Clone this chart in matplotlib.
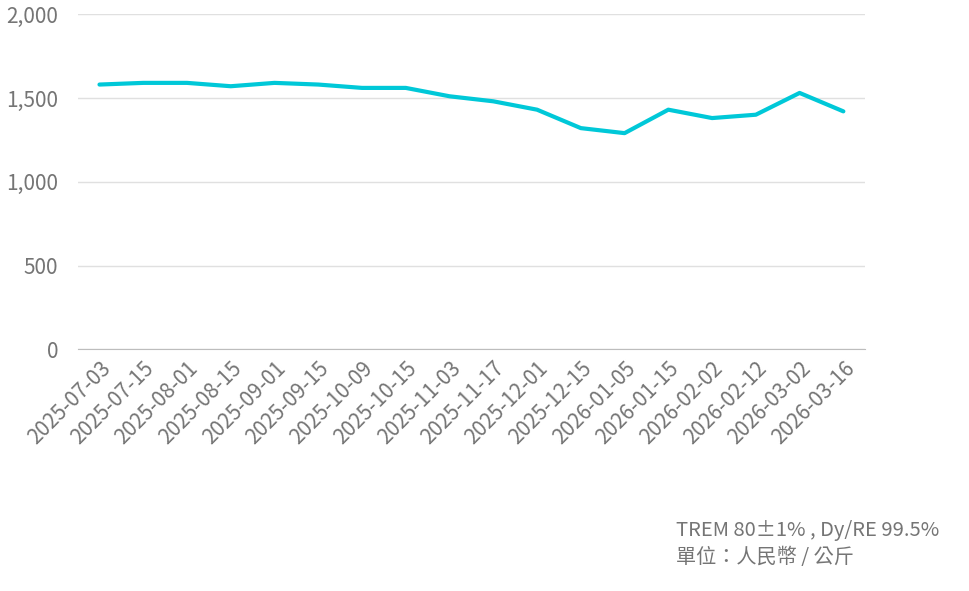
import matplotlib
matplotlib.use('Agg')
import matplotlib.pyplot as plt

plt.rcParams['font.family'] = ['Noto Sans CJK TC', 'DejaVu Sans']

dates = ['2025-07-03', '2025-07-15', '2025-08-01', '2025-08-15', '2025-09-01',
         '2025-09-15', '2025-10-09', '2025-10-15', '2025-11-03', '2025-11-17',
         '2025-12-01', '2025-12-15', '2026-01-05', '2026-01-15', '2026-02-02',
         '2026-02-12', '2026-03-02', '2026-03-16']
prices = [1580, 1590, 1590, 1570, 1590, 1580, 1560, 1560, 1510, 1480,
          1430, 1320, 1290, 1430, 1380, 1400, 1530, 1420]

grey = '#757575'
fig = plt.figure(figsize=(9.7, 5.91), dpi=100)
ax = fig.add_axes([0.08, 0.409, 0.812, 0.567])
x = range(len(dates))
ax.plot(x, prices, color='#00c8d8', lw=3, solid_capstyle='round')
ax.set_xlim(-0.5, len(dates) - 0.5)
ax.set_ylim(0, 2000)
ax.set_yticks([0, 500, 1000, 1500, 2000])
ax.set_yticklabels(['0', '500', '1,000', '1,500', '2,000'])
ax.set_xticks(list(x))
ax.set_xticklabels(dates, rotation=45, ha='right', rotation_mode='anchor')
ax.grid(axis='y', color='#e0e0e0', lw=1)
ax.set_axisbelow(True)
for s in ['top', 'right', 'left']:
    ax.spines[s].set_visible(False)
ax.spines['bottom'].set_color('#bdbdbd')
ax.tick_params(axis='y', length=0, labelsize=15, labelcolor=grey, pad=14)
ax.tick_params(axis='x', length=0, labelsize=15, labelcolor=grey, pad=6)

fig.text(0.697, 0.08, 'TREM 80±1% , Dy/RE 99.5%\n單位：人民幣 / 公斤',
         fontsize=14.5, color=grey, va='center', linespacing=1.4)

fig.savefig('out.png', dpi=100)
